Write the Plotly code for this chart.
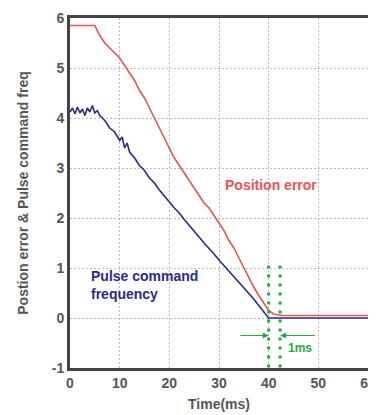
import plotly.graph_objects as go

# Pulse command frequency (blue)
pulse_t = [0, 0.5, 1, 1.5, 2, 2.5, 3, 3.5, 4, 4.5, 5, 5.5, 6, 7, 8, 9, 10, 10.5, 11, 11.5, 12,
           13, 14, 15, 16, 17, 18, 19, 20, 21, 22, 23, 24, 25, 26, 27, 28, 29, 30, 31, 32,
           33, 34, 35, 36, 37, 38, 39, 40, 60]
pulse_v = [4.12, 4.2, 4.08, 4.22, 4.1, 4.18, 4.05, 4.2, 4.12, 4.25, 4.1, 4.15, 4.05, 3.95, 3.8,
           3.72, 3.55, 3.62, 3.4, 3.5, 3.32, 3.2, 3.05, 2.95, 2.8, 2.7, 2.56, 2.45, 2.32, 2.2,
           2.1, 1.97, 1.86, 1.74, 1.62, 1.5, 1.4, 1.28, 1.16, 1.05, 0.93, 0.82, 0.72, 0.6,
           0.48, 0.38, 0.25, 0.12, 0.0, 0.0]

# Position error (red)
err_t = [0, 5, 6, 7, 8, 9, 10, 11, 12, 13, 14, 15, 16, 17, 18, 19, 20, 21, 22, 23, 24, 25,
         26, 27, 28, 29, 30, 31, 32, 33, 34, 35, 36, 37, 38, 39, 40, 41, 42.5, 60]
err_v = [5.85, 5.85, 5.65, 5.5, 5.4, 5.3, 5.2, 5.05, 4.9, 4.75, 4.55, 4.4, 4.2, 4.0, 3.8, 3.6,
         3.4, 3.2, 3.05, 2.9, 2.75, 2.6, 2.45, 2.3, 2.2, 2.05, 1.9, 1.75, 1.55, 1.4, 1.2, 1.0,
         0.8, 0.62, 0.45, 0.3, 0.15, 0.08, 0.05, 0.05]

marker_t = [40, 42.3]
x_ticks = [0, 10, 20, 30, 40, 50, 60]
y_ticks = [-1, 0, 1, 2, 3, 4, 5, 6]

GREEN = "#22aa44"
RED = "#e85555"
BLUE = "#2e2a8c"

fig = go.Figure()
fig.add_trace(go.Scatter(x=err_t, y=err_v, mode="lines", line=dict(color=RED, width=1.6)))
fig.add_trace(go.Scatter(x=pulse_t, y=pulse_v, mode="lines", line=dict(color=BLUE, width=1.6)))

for t in marker_t:
    fig.add_trace(go.Scatter(x=[t, t], y=[1.05, -1], mode="lines",
                             line=dict(color=GREEN, width=3, dash="3px,6px")))

# 1ms arrows
fig.add_annotation(x=40, y=-0.35, ax=34, ay=-0.35, xref="x", yref="y", axref="x", ayref="y",
                   text="", showarrow=True, arrowhead=2, arrowsize=1.2, arrowwidth=1, arrowcolor=GREEN)
fig.add_annotation(x=42.3, y=-0.35, ax=49.6, ay=-0.35, xref="x", yref="y", axref="x", ayref="y",
                   text="", showarrow=True, arrowhead=2, arrowsize=1.2, arrowwidth=1, arrowcolor=GREEN)
fig.add_annotation(x=43.4, y=-0.6, text="<b>1ms</b>", showarrow=False, xanchor="left",
                   font=dict(color=GREEN, size=12))

fig.add_annotation(x=40.4, y=2.66, text="<b>Position error</b>", showarrow=False,
                   font=dict(color=RED, size=14))
fig.add_annotation(x=3.8, y=0.66, text="<b>Pulse command<br>frequency</b>", showarrow=False,
                   xanchor="left", align="left", font=dict(color=BLUE, size=14))

axis_common = dict(showgrid=True, gridcolor="#bbbbbb", griddash="2px,2px", gridwidth=1,
                   showline=True, linecolor="#444444", linewidth=3, mirror=True,
                   zeroline=False, ticks="", automargin=False,
                   tickfont=dict(size=14, color="#555555"))

fig.update_xaxes(range=[0, 60], tickvals=x_ticks, ticktext=[f"<b>{v}</b>" for v in x_ticks],
                 title=dict(text="<b>Time(ms)</b>", font=dict(size=14, color="#555555"), standoff=10),
                 **axis_common)
fig.update_yaxes(range=[-1, 6], tickvals=y_ticks, ticktext=[f"<b>{v}</b>" for v in y_ticks],
                 title=dict(text="<b>Postion error & Pulse command freq</b>",
                            font=dict(size=14, color="#555555"), standoff=20),
                 **axis_common)

fig.update_layout(width=376, height=415, showlegend=False,
                  margin=dict(l=62, r=16, t=10, b=55),
                  plot_bgcolor="white", paper_bgcolor="white",
                  font=dict(family="Liberation Sans, Arial, sans-serif"))

fig.write_html("out.html")
